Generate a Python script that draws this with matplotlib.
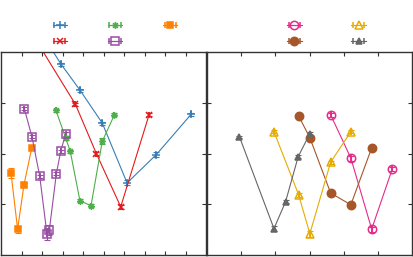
import matplotlib
matplotlib.use("Agg")
import matplotlib.pyplot as plt
from matplotlib.path import Path

# ---- left panel series ----
blue_x = [2.0, 2.93, 3.85, 4.94, 6.15, 7.58, 9.27]
blue_y = [4.35, 3.76, 3.25, 2.60, 1.42, 1.98, 2.77]
blue_e = [0.03, 0.03, 0.03, 0.03, 0.05, 0.04, 0.03]

red_x = [1.5, 3.63, 4.65, 5.84, 7.22]
red_y = [4.37, 2.97, 2.00, 0.95, 2.76]
red_e = [0.03, 0.03, 0.03, 0.04, 0.03]

green_x = [2.68, 3.15, 3.38, 3.85, 4.39, 4.94, 5.53]
green_y = [2.85, 2.31, 2.04, 1.07, 0.97, 2.24, 2.76]
green_e = [0.03, 0.04, 0.03, 0.03, 0.03, 0.06, 0.03]

orange_x = [0.49, 0.81, 1.12, 1.50]
orange_y = [1.61, 0.51, 1.38, 2.11]
orange_e = [0.10, 0.07, 0.03, 0.03]

purple_x = [1.14, 1.51, 1.89, 2.24, 2.36, 2.70, 2.91, 3.15]
purple_y = [2.88, 2.33, 1.55, 0.42, 0.50, 1.60, 2.04, 2.38]
purple_e = [0.03, 0.03, 0.03, 0.12, 0.10, 0.03, 0.03, 0.04]

# ---- right panel series ----
pink_x = [3.62, 4.21, 4.82, 5.42]
pink_y = [2.76, 1.91, 0.51, 1.69]
pink_e = [0.04, 0.05, 0.05, 0.04]

brown_x = [2.69, 3.01, 3.62, 4.21, 4.82]
brown_y = [2.73, 2.31, 1.22, 0.99, 2.11]
brown_e = [0.03, 0.03, 0.03, 0.04, 0.03]

yellow_x = [1.96, 2.68, 3.01, 3.62, 4.21]
yellow_y = [2.43, 1.19, 0.42, 1.83, 2.43]
yellow_e = [0.03, 0.04, 0.06, 0.03, 0.03]

gray_x = [0.95, 1.96, 2.30, 2.67, 3.01]
gray_y = [2.33, 0.52, 1.05, 1.94, 2.39]
gray_e = [0.02, 0.05, 0.03, 0.03, 0.03]

# asterisk marker (+ and x together)
star = Path([(-1, 0), (1, 0), (0, -1), (0, 1),
             (-0.7, -0.7), (0.7, 0.7), (-0.7, 0.7), (0.7, -0.7)],
            [Path.MOVETO, Path.LINETO] * 4)

W, H = 413, 257
fig = plt.figure(figsize=(W / 100, H / 100), dpi=100)
ax1 = fig.add_axes([1 / W, 2 / H, 205 / W, 203 / H])
ax2 = fig.add_axes([207 / W, 2 / H, 205 / W, 203 / H])


def series(ax, x, y, e, color, marker, filled=True, ms=5):
    kw = dict(color=color, lw=0.8, marker=marker, ms=ms, mew=1.1,
              mfc=color if filled else "none", mec=color,
              capsize=2.5, elinewidth=0.8, capthick=0.8)
    h = ax.errorbar(x, y, xerr=[0] * len(x), **kw)
    ax.errorbar(x, y, yerr=e, fmt="none", ecolor=color,
                capsize=2.5, elinewidth=0.8, capthick=0.8)
    return h


h_blue = series(ax1, blue_x, blue_y, blue_e, "#377eb8", "+", ms=6)
h_red = series(ax1, red_x, red_y, red_e, "#e41a1c", "x", ms=5)
h_green = series(ax1, green_x, green_y, green_e, "#4daf4a", star, ms=5)
h_orange = series(ax1, orange_x, orange_y, orange_e, "#ff7f00", "s", ms=5)
h_purple = series(ax1, purple_x, purple_y, purple_e, "#984ea3", "s", filled=False, ms=6)

h_pink = series(ax2, pink_x, pink_y, pink_e, "#e7298a", "o", filled=False, ms=6)
h_brown = series(ax2, brown_x, brown_y, brown_e, "#a65628", "o", ms=6)
h_yellow = series(ax2, yellow_x, yellow_y, yellow_e, "#e6ab02", "^", filled=False, ms=6)
h_gray = series(ax2, gray_x, gray_y, gray_e, "#666666", "^", ms=5)

ax1.set_xlim(0, 10)
ax2.set_xlim(0, 6)
for ax in (ax1, ax2):
    ax.set_ylim(0, 4)
    ax.set_yticks([1, 2, 3])
    ax.set_xticks(range(1, int(ax.get_xlim()[1])))
    ax.tick_params(direction="in", length=3, width=0.8, top=True, right=True,
                   labelbottom=False, labelleft=False, color="#333333")
    for s in ax.spines.values():
        s.set_linewidth(1.0)
        s.set_color("#333333")

fs = 8
fig.legend([h_blue, h_red, h_green, h_purple, h_orange], [""] * 5,
           ncol=3, loc="center", bbox_to_anchor=(115 / W, 1 - 34 / H),
           frameon=False, fontsize=fs, handlelength=1.3, handletextpad=0,
           columnspacing=3.66, labelspacing=0.5, borderpad=0)
fig.legend([h_pink, h_brown, h_yellow, h_gray], [""] * 4,
           ncol=2, loc="center", bbox_to_anchor=(326.5 / W, 1 - 34 / H),
           frameon=False, fontsize=fs, handlelength=1.3, handletextpad=0,
           columnspacing=4.47, labelspacing=0.5, borderpad=0)

fig.savefig("out.png", dpi=100)
